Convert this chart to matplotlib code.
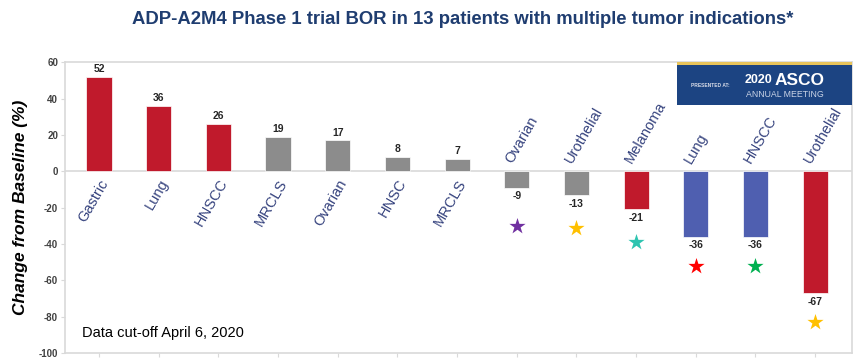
"""
ADP-A2M4 Phase 1 BOR waterfall chart
"""

import matplotlib
matplotlib.use("Agg")
import matplotlib.pyplot as plt
from matplotlib.patches import Rectangle

# data
tumors = ['Gastric', 'Lung', 'HNSCC', 'MRCLS', 'Ovarian', 'HNSC', 'MRCLS',
          'Ovarian', 'Urothelial', 'Melanoma', 'Lung', 'HNSCC', 'Urothelial']
change = [52, 36, 26, 19, 17, 8, 7, -9, -13, -21, -36, -36, -67]
response = ['PR', 'PR', 'PR', 'SD', 'SD', 'SD', 'SD',
            'SD', 'SD', 'PR', 'PD', 'PD', 'PR']  # colour group
star_y = [None, None, None, None, None, None, None, -30, -31, -39, -52, -52, -83]
star_colors = [None] * 7 + ['#7030A0', '#FFC000', '#2EC4B0', '#FF0000', '#00B050', '#FFC000']

group_colors = {'PR': '#C01A2C', 'SD': '#8C8C8C', 'PD': '#4F5FB0'}
label_color = '#36437E'

plt.rcParams['font.family'] = ['Liberation Sans', 'DejaVu Sans']

fig = plt.figure(figsize=(8.66, 3.59), dpi=100)
ax = fig.add_axes([0.075, 0.0167, 0.909, 0.81])

x = list(range(len(tumors)))
colors = [group_colors[r] for r in response]
ax.bar(x, change, width=0.42, color=colors, edgecolor='white', linewidth=0.5, zorder=3)

ax.axhline(0, color='#D9D9D9', lw=1.2, zorder=1)

for i, (name, v) in enumerate(zip(tumors, change)):
    if v >= 0:
        ax.text(i, v + 1.5, str(v), ha='center', va='bottom', fontsize=7.5,
                fontweight='bold', color='#262626')
        ax.text(i + 0.1, -5, name, rotation=60, ha='right', va='center',
                rotation_mode='anchor', fontsize=10.5, color=label_color)
    else:
        ax.text(i, v - 2, str(v), ha='center', va='top', fontsize=7.5,
                fontweight='bold', color='#262626')
        ax.text(i - 0.13, 5, name, rotation=60, ha='left', va='center',
                rotation_mode='anchor', fontsize=10.5, color=label_color)

for i, (sy, sc) in enumerate(zip(star_y, star_colors)):
    if sy is not None:
        ax.scatter(i, sy, marker='*', s=150, color=sc, zorder=4, linewidths=0)

ax.set_ylim(-100, 60)
ax.set_xlim(-0.57, 12.62)
ax.set_yticks(range(-100, 61, 20))
ax.set_yticklabels([str(t) for t in range(-100, 61, 20)], fontsize=7,
                   fontweight='bold', color='#404040')
ax.set_xticks(x)
ax.set_xticklabels([])
ax.tick_params(axis='y', length=3, color='#D9D9D9', pad=2)
ax.tick_params(axis='x', length=3, color='#D9D9D9')
for s in ax.spines.values():
    s.set_color('#D9D9D9')
    s.set_linewidth(1.2)

ax.set_ylabel('Change from Baseline (%)', fontsize=12.5, fontweight='bold',
              fontstyle='italic', color='black', labelpad=8)

fig.text(82 / 866, 22 / 359, 'Data cut-off April 6, 2020', fontsize=10.5,
         color='black', va='baseline', ha='left')

fig.text(0.534, 0.945, 'ADP-A2M4 Phase 1 trial BOR in 13 patients with multiple tumor indications*',
         ha='center', va='center', fontsize=13.3, fontweight='bold', color='#1F3D70')

# ASCO badge
bx, by, bw, bh = 677 / 866, 254 / 359, 175 / 866, 43 / 359
fig.patches.append(Rectangle((bx, by), bw, bh, transform=fig.transFigure,
                             facecolor='#1C4482', edgecolor='none', zorder=5))
fig.patches.append(Rectangle((bx, by + bh - 0.007), bw, 0.007, transform=fig.transFigure,
                             facecolor='#E8C45A', edgecolor='none', zorder=6))
fig.text(710 / 866, by + bh * 0.45, 'PRESENTED AT:', fontsize=3.5, color='#D8DCE8',
         fontweight='bold', ha='center', va='center', zorder=7)
fig.text(745 / 866, by + bh * 0.58, '2020', fontsize=9, color='white', fontweight='bold',
         ha='left', va='center', zorder=7)
fig.text(775 / 866, by + bh * 0.58, 'ASCO', fontsize=12.5, color='white', fontweight='bold',
         ha='left', va='center', zorder=7)
fig.text(746 / 866, by + bh * 0.25, 'ANNUAL MEETING', fontsize=6.3, color='#C9D3E6',
         ha='left', va='center', zorder=7)

fig.savefig('out.png', dpi=100)
